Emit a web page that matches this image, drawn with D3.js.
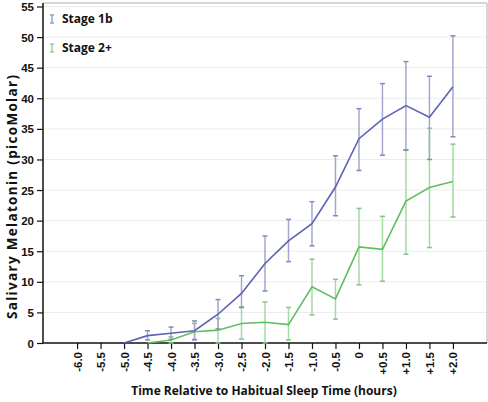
<!DOCTYPE html>
<html><head><meta charset="utf-8">
<script src="https://cdn.jsdelivr.net/npm/d3@7"></script>
<style>body{margin:0;background:#fff}svg{display:block}text{font-family:"Open Sans","DejaVu Sans",sans-serif;font-weight:bold;fill:#111}.tk{font-family:"Liberation Sans",Arial,sans-serif}</style>
</head><body>
<svg id="c" width="488" height="402"></svg>
<script>
const categories = ["-6.0","-5.5","-5.0","-4.5","-4.0","-3.5","-3.0","-2.5","-2.0","-1.5","-1.0","-0.5","0","+0.5","+1.0","+1.5","+2.0"];
const yTicks = [0,5,10,15,20,25,30,35,40,45,50,55];

const blueCats = ["-5.0","-4.5","-4.0","-3.5","-3.0","-2.5","-2.0","-1.5","-1.0","-0.5","0","+0.5","+1.0","+1.5","+2.0"];
const blueMean = [0, 1.2, 1.6, 2.0, 4.7, 8.1, 13.0, 16.7, 19.5, 25.5, 33.4, 36.6, 38.8, 36.9, 41.9];
const blueHigh = [null, 2.0, 2.6, 3.6, 7.1, 11.0, 17.5, 20.2, 23.1, 30.6, 38.3, 42.4, 46.0, 43.6, 50.2];
const blueLow  = [null, 0.5, 0.6, 0.5, 2.3, 5.8, 8.5, 13.3, 15.9, 20.8, 28.2, 30.7, 31.5, 30.0, 33.7];

const greenCats = ["-4.5","-4.0","-3.5","-3.0","-2.5","-2.0","-1.5","-1.0","-0.5","0","+0.5","+1.0","+1.5","+2.0"];
const greenMean = [0, 0.5, 1.85, 2.1, 3.2, 3.4, 3.0, 9.2, 7.2, 15.7, 15.3, 23.2, 25.4, 26.4];
const greenHigh = [null, 1.0, 3.2, 4.0, 5.9, 6.7, 5.8, 13.7, 10.4, 22.0, 20.7, 31.6, 35.1, 32.5];
const greenLow  = [null, 0, 0.6, 0, 0.65, 0, 0.5, 4.6, 3.9, 9.5, 10.1, 14.5, 15.6, 20.6];

const seriesNames = ["Stage 1b","Stage 2+"];

const svg = d3.select("#c");
const L = 43, R = 487, T = 3, B = 343;
const x = d3.scalePoint().domain(categories).range([L, R]).padding(1.45);
const y = d3.scaleLinear().domain([0,55]).range([B, 6.5]);

// grid
svg.append("g").selectAll("line").data(yTicks.filter(d=>d>0)).join("line")
  .attr("x1", L).attr("x2", R).attr("y1", d=>y(d)).attr("y2", d=>y(d))
  .attr("stroke", "#ececec").attr("stroke-width", 1);
// border
svg.append("line").attr("x1", L).attr("x2", R).attr("y1", T).attr("y2", T).attr("stroke", "#c8c8c8").attr("stroke-width", 1.5);
svg.append("line").attr("x1", R).attr("x2", R).attr("y1", T).attr("y2", B).attr("stroke", "#c8c8c8").attr("stroke-width", 1.5);

// y axis
const ya = svg.append("g").attr("transform", `translate(${L},0)`)
  .call(d3.axisLeft(y).tickValues(yTicks).tickSize(6).tickPadding(3));
ya.select(".domain").attr("stroke","#111").attr("stroke-width",1.5).attr("d", `M0,${T}V${B}`);
ya.selectAll(".tick line").attr("stroke","#111").attr("stroke-width",1.2);
ya.selectAll(".tick text").attr("class","tk").style("font-size","11.5px").attr("fill","#111").attr("dy","0.35em");

// x axis
const xa = svg.append("g").attr("transform", `translate(0,${B})`)
  .call(d3.axisBottom(x).tickSize(6).tickPadding(3));
xa.select(".domain").attr("stroke","#111").attr("stroke-width",1.5).attr("d", `M${L},0H${R}`);
xa.selectAll(".tick line").attr("stroke","#111").attr("stroke-width",1.2);
xa.selectAll(".tick text").attr("class","tk").style("font-size","11.5px").attr("fill","#111")
  .attr("transform","rotate(-90)").attr("text-anchor","end")
  .attr("x", -9).attr("y", 0).attr("dy","0.35em");

function drawSeries(cats, mean, hi, lo, barColor, capColor, lineColor) {
  const pts = cats.map((c,i)=>({c, m:mean[i], h:hi[i], l:lo[i]}));
  const g = svg.append("g");
  const eb = pts.filter(p=>p.h!==null);
  g.selectAll(".v").data(eb).join("line")
    .attr("x1", p=>x(p.c)).attr("x2", p=>x(p.c)).attr("y1", p=>y(p.h)).attr("y2", p=>y(p.l))
    .attr("stroke", barColor).attr("stroke-width", 1.5);
  ["h","l"].forEach(k=>{
    g.selectAll(".c"+k).data(eb).join("line")
      .attr("x1", p=>x(p.c)-2.5).attr("x2", p=>x(p.c)+2.5).attr("y1", p=>y(p[k])).attr("y2", p=>y(p[k]))
      .attr("stroke", capColor).attr("stroke-width", 1.5);
  });
  return () => svg.append("path").datum(pts)
    .attr("d", d3.line().x(p=>x(p.c)).y(p=>y(p.m)))
    .attr("fill","none").attr("stroke", lineColor).attr("stroke-width", 1.6);
}
const gLine = drawSeries(greenCats, greenMean, greenHigh, greenLow, "#a3dba3", "#86c486", "#62bd62");
const bLine = drawSeries(blueCats, blueMean, blueHigh, blueLow, "#a4a6cf", "#8688b6", "#5d62b2");
gLine(); bLine();

// legend
const leg = [{n:seriesNames[0], c:"#8a8cc0", y:19},{n:seriesNames[1], c:"#86c486", y:48}];
leg.forEach(d=>{
  svg.append("line").attr("x1",52).attr("x2",52).attr("y1",d.y-4).attr("y2",d.y+4).attr("stroke",d.c).attr("stroke-width",1.2);
  svg.append("line").attr("x1",50).attr("x2",54).attr("y1",d.y-4).attr("y2",d.y-4).attr("stroke",d.c).attr("stroke-width",1.2);
  svg.append("line").attr("x1",50).attr("x2",54).attr("y1",d.y+4).attr("y2",d.y+4).attr("stroke",d.c).attr("stroke-width",1.2);
  svg.append("text").attr("x",62).attr("y",d.y).attr("dy","0.35em").style("font-size","12px").text(d.n);
});

// titles
svg.append("text").attr("x", 264).attr("y", 395).attr("text-anchor","middle").style("font-size","12px")
  .text("Time Relative to Habitual Sleep Time (hours)");
svg.append("text").attr("transform","translate(17,197) rotate(-90)").attr("text-anchor","middle").style("font-size","13.5px")
  .attr("textLength", 244).attr("lengthAdjust","spacing")
  .text("Salivary Melatonin (picoMolar)");
</script>
</body></html>
